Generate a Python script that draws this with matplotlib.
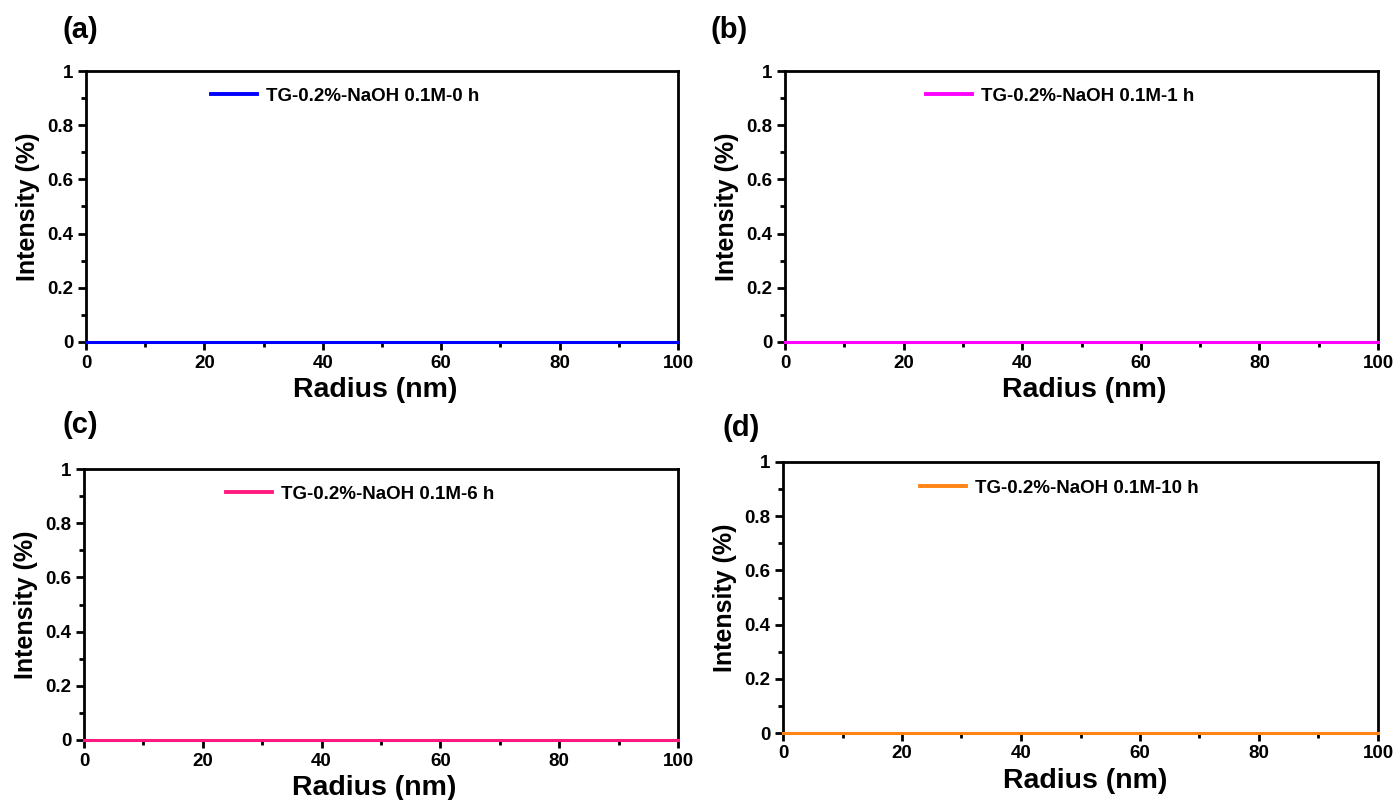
import matplotlib
matplotlib.use("Agg")
import matplotlib.pyplot as plt
from matplotlib.ticker import MultipleLocator, FuncFormatter

plt.rcParams['font.family'] = ['Liberation Sans', 'DejaVu Sans']
plt.rcParams['font.weight'] = 'bold'

radius = [0, 10, 20, 30, 40, 50, 60, 70, 80, 90, 100]
intensity_0h = [0, 0, 0, 0, 0, 0, 0, 0, 0, 0, 0]
intensity_1h = [0, 0, 0, 0, 0, 0, 0, 0, 0, 0, 0]
intensity_6h = [0, 0, 0, 0, 0, 0, 0, 0, 0, 0, 0]
intensity_10h = [0, 0, 0, 0, 0, 0, 0, 0, 0, 0, 0]

series = [intensity_0h, intensity_1h, intensity_6h, intensity_10h]
labels = ['TG-0.2%-NaOH 0.1M-0 h', 'TG-0.2%-NaOH 0.1M-1 h',
          'TG-0.2%-NaOH 0.1M-6 h', 'TG-0.2%-NaOH 0.1M-10 h']
panel_tags = ['(a)', '(b)', '(c)', '(d)']
colors = ['#0000FF', '#FF00FF', '#FF1A7F', '#FF8415']

W, H = 1395, 800
fig = plt.figure(figsize=(W / 100, H / 100), dpi=100)

# axes boxes in pixels: left, right, top, bottom
boxes = [(86, 678, 71, 342), (785, 1378, 71, 342),
         (84, 678, 469, 740), (783, 1378, 462, 733)]
tag_pos = [(63, 30), (710, 30), (63, 425), (723, 428)]
leg_pos = [(211, 96), (926, 96), (226, 494), (920, 488)]
xlabel_cx = [375, 1084, 374, 1085]

def fmt(v, p):
    s = f"{v:.1f}"
    if s.endswith('.0'):
        s = s[:-2]
    return s

for i in range(4):
    l, r, t, b = boxes[i]
    ax = fig.add_axes([l / W, 1 - b / H, (r - l) / W, (b - t) / H])
    line, = ax.plot(radius, series[i], color=colors[i], lw=2.2, label=labels[i],
                    zorder=5, clip_on=False)
    ax.set_xlim(0, 100)
    ax.set_ylim(0, 1)
    ax.xaxis.set_major_locator(MultipleLocator(20))
    ax.xaxis.set_minor_locator(MultipleLocator(10))
    ax.yaxis.set_major_locator(MultipleLocator(0.2))
    ax.yaxis.set_minor_locator(MultipleLocator(0.1))
    ax.yaxis.set_major_formatter(FuncFormatter(fmt))
    for s in ax.spines.values():
        s.set_linewidth(2.0)
        s.set_zorder(2)
    ax.tick_params(which='major', direction='out', length=6, width=2.0,
                   labelsize=13.5, top=False, right=False, pad=3)
    ax.tick_params(which='minor', direction='out', length=3.5, width=2.0,
                   top=False, right=False)
    for lab in ax.get_xticklabels() + ax.get_yticklabels():
        lab.set_fontweight('bold')
    ax.set_xlabel('Radius (nm)', fontsize=20.5, fontweight='bold', labelpad=4)
    ax.xaxis.label.set_x((xlabel_cx[i] - l) / (r - l))
    ax.set_ylabel('Intensity (%)', fontsize=18, fontweight='bold', labelpad=5)
    lx, ly = leg_pos[i]
    leg = ax.legend(loc='center left', frameon=False, fontsize=13.5,
                    handlelength=2.5, handletextpad=0.45,
                    bbox_to_anchor=((lx - l - 8) / (r - l), 1 - (ly - t) / (b - t)),
                    borderaxespad=0)
    for txt in leg.get_texts():
        txt.set_fontweight('bold')
    for lh in leg.get_lines():
        lh.set_linewidth(2.8)
    tx, ty = tag_pos[i]
    fig.text(tx / W, 1 - ty / H, panel_tags[i], fontsize=21, fontweight='bold',
             ha='left', va='center')

fig.savefig('out.png', dpi=100)
